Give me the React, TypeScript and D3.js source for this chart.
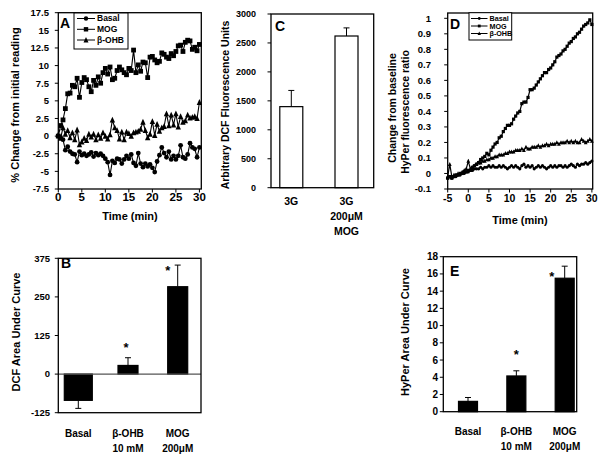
import React from "react";
import * as d3 from "d3";

// ---------- DATA ----------
const TIME_A = [0,0.5,1,1.5,2,2.5,3,3.5,4,4.5,5,5.5,6,6.5,7,7.5,8,8.5,9,9.5,10,10.5,11,11.5,12,12.5,13,13.5,14,14.5,15,15.5,16,16.5,17,17.5,18,18.5,19,19.5,20,20.5,21,21.5,22,22.5,23,23.5,24,24.5,25,25.5,26,26.5,27,27.5,28,28.5,29,29.5,30];
const BASAL_A = [0,-0.2,-0.5,-2.0,-1.5,-2.2,-2.5,-2.6,-3.7,-2.2,-2.7,-2.5,-2.8,-2.6,-2.3,-2.9,-2.4,-2.7,-2.5,-2.8,-3.2,-3.7,-5.5,-3.5,-3.8,-3.2,-3.3,-3.9,-3.3,-2.8,-3.2,-2.6,-3.8,-4.2,-2.4,-3.9,-4.4,-3.9,-4.3,-4.0,-4.5,-5.1,-3.6,-2.7,-1.6,-2.4,-3.0,-2.2,-3.3,-2.8,-3.3,-2.8,-1.3,-3.0,-3.2,-2.6,-1.0,-1.6,-1.8,-3.0,-1.6];
const MOG_A = [0,1.5,2.3,3.9,6.0,6.1,7.2,7.0,8.2,5.5,7.6,8.3,8.0,7.0,6.3,7.9,7.2,8.4,7.5,9.0,9.6,8.8,9.8,8.0,8.2,9.3,9.8,9.4,9.0,8.7,9.6,9.3,12.2,9.0,10.1,9.2,10.5,10.4,8.3,11.2,11.3,10.8,10.4,10.6,11.8,11.6,11.2,11.0,11.7,11.4,12.0,12.8,12.9,12.0,13.3,13.6,13.5,12.3,12.6,12.1,13.0];
const BOHB_A = [0.2,-0.3,1.2,0.3,0.8,-0.2,0.5,-0.5,0.9,-1.2,-0.8,-0.3,-0.6,0.3,-0.1,0.3,-0.5,0.2,-0.3,0.5,0.0,-0.4,0.2,2.3,1.2,0.8,-0.4,0.6,-0.5,0.6,0.4,0.0,0.5,0.6,0.7,1.0,2.0,0.8,-0.2,0.3,2.1,0.1,1.7,0.7,1.2,1.4,3.2,1.5,3.0,1.6,3.2,1.3,2.8,2.0,2.2,3.0,2.6,2.7,2.8,2.5,4.8];
const TICKS_A_Y = [-7.5,-5,-2.5,0,2.5,5,7.5,10,12.5,15,17.5];
const TICKS_A_X = [0,5,10,15,20,25,30];

const TIME_D = [-5,-4.5,-4,-3.5,-3,-2.5,-2,-1.5,-1,-0.5,0,0.5,1,1.5,2,2.5,3,3.5,4,4.5,5,5.5,6,6.5,7,7.5,8,8.5,9,9.5,10,10.5,11,11.5,12,12.5,13,13.5,14,14.5,15,15.5,16,16.5,17,17.5,18,18.5,19,19.5,20,20.5,21,21.5,22,22.5,23,23.5,24,24.5,25,25.5,26,26.5,27,27.5,28,28.5,29,29.5,30];
const BASAL_D = [-0.03,-0.02,-0.03,-0.02,-0.02,-0.01,-0.01,0.0,0.0,0.01,0.01,0.02,0.02,0.03,0.03,0.03,0.04,0.03,0.04,0.04,0.05,0.04,0.05,0.04,0.04,0.05,0.04,0.05,0.04,0.03,0.04,0.05,0.04,0.05,0.04,0.03,0.05,0.06,0.04,0.05,0.04,0.05,0.03,0.04,0.05,0.04,0.05,0.04,0.03,0.04,0.05,0.04,0.05,0.04,0.05,0.05,0.04,0.05,0.04,0.05,0.06,0.05,0.04,0.06,0.05,0.06,0.06,0.07,0.06,0.07,0.08];
const MOG_D = [-0.03,-0.02,-0.03,-0.02,-0.01,-0.01,0.0,0.0,0.01,0.01,0.02,0.02,0.04,0.05,0.06,0.07,0.09,0.1,0.11,0.13,0.12,0.15,0.17,0.19,0.2,0.23,0.24,0.27,0.29,0.31,0.31,0.32,0.35,0.37,0.39,0.4,0.45,0.46,0.46,0.49,0.54,0.54,0.55,0.57,0.59,0.61,0.63,0.65,0.65,0.67,0.68,0.7,0.72,0.75,0.76,0.77,0.79,0.8,0.82,0.84,0.85,0.87,0.88,0.9,0.91,0.93,0.95,0.96,0.97,0.99,0.96];
const BOHB_D = [-0.02,0.06,-0.02,-0.01,-0.01,0.0,0.0,0.01,0.02,0.03,0.08,0.03,0.04,0.05,0.06,0.07,0.07,0.08,0.08,0.09,0.09,0.1,0.1,0.11,0.11,0.12,0.12,0.12,0.13,0.13,0.14,0.14,0.14,0.15,0.15,0.15,0.16,0.15,0.17,0.16,0.16,0.17,0.17,0.17,0.18,0.17,0.18,0.18,0.19,0.18,0.19,0.19,0.19,0.2,0.19,0.2,0.2,0.2,0.21,0.2,0.21,0.2,0.21,0.2,0.2,0.22,0.21,0.2,0.21,0.22,0.21];
const TICKS_D_Y = [-0.1,0,0.1,0.2,0.3,0.4,0.5,0.6,0.7,0.8,0.9,1];
const TICKS_D_X = [-5,0,5,10,15,20,25,30];

const SERIES_NAMES = ["Basal", "MOG", "β-OHB"];

const CATS_C = ["3G", "3G 200μM MOG"];
const LABELS_C = [["3G"], ["3G", "200μM", "MOG"]];
const VALUES_C = [1400, 2620];
const ERR_C = [280, 140];
const TICKS_C_Y = [0,500,1000,1500,2000,2500,3000];

const CATS_B = ["Basal", "β-OHB 10 mM", "MOG 200μM"];
const LABELS_B = [["Basal"], ["β-OHB", "10 mM"], ["MOG", "200μM"]];
const VALUES_B = [-85, 28, 283];
const ERR_B = [26, 25, 70];
const SIG_B = [false, true, true];
const TICKS_B_Y = [-125, 0, 125, 250, 375];

const VALUES_E = [1.2, 4.15, 15.5];
const ERR_E = [0.45, 0.6, 1.4];
const SIG_E = [false, true, true];
const TICKS_E_Y = [0,2,4,6,8,10,12,14,16,18];

// ---------- STYLE ----------
const FONT = "'Liberation Sans', Arial, Helvetica, sans-serif";

function Marker({ type, x, y, s }: { type: string; x: number; y: number; s: number }) {
  if (type === "circle") return <circle cx={x} cy={y} r={s / 2} fill="#000" />;
  if (type === "square") return <rect x={x - s / 2} y={y - s / 2} width={s} height={s} fill="#000" />;
  const h = s * 1.1;
  return <polygon points={`${x},${y - h / 2 - 0.5} ${x - s / 2 - 0.3},${y + h / 2} ${x + s / 2 + 0.3},${y + h / 2}`} fill="#000" />;
}

const MARKERS = ["circle", "square", "triangle"];

function LinePanel(props: {
  xs: number[]; series: number[][]; xDom: [number, number]; xRange: [number, number];
  yDom: [number, number]; yRange: [number, number]; frameTop: number;
  yTicks: number[]; xTicks: number[]; yFmt: (v: number) => string;
  mSize: number; lw: number; yLabX: number; xLabY: number; yTickFs: number; xTickFs: number;
}) {
  const x = d3.scaleLinear().domain(props.xDom).range(props.xRange);
  const y = d3.scaleLinear().domain(props.yDom).range(props.yRange);
  const line = d3.line<number>().x((_, i) => x(props.xs[i])).y((d) => y(d));
  const [x0, x1] = props.xRange;
  const yb = props.yRange[0];
  return (
    <g>
      {props.series.map((s, k) => (
        <g key={k}>
          <path d={line(s) || ""} fill="none" stroke="#000" strokeWidth={props.lw} />
          {s.map((v, i) => (
            <Marker key={i} type={MARKERS[k]} x={x(props.xs[i])} y={y(v)} s={props.mSize} />
          ))}
        </g>
      ))}
      <rect x={x0} y={props.frameTop} width={x1 - x0} height={yb - props.frameTop} fill="none" stroke="#000" strokeWidth={1.3} />
      {props.yTicks.map((t) => (
        <g key={"y" + t}>
          <line x1={x0 - 3.5} x2={x0} y1={y(t)} y2={y(t)} stroke="#000" strokeWidth={1} />
          <text x={props.yLabX} y={y(t)} dy="0.35em" textAnchor="end" fontSize={props.yTickFs} fontWeight="bold" fontFamily={FONT}>{props.yFmt(t)}</text>
        </g>
      ))}
      {props.xTicks.map((t) => (
        <g key={"x" + t}>
          <line x1={x(t)} x2={x(t)} y1={yb} y2={yb + 3.5} stroke="#000" strokeWidth={1} />
          <text x={x(t)} y={props.xLabY} dy="0.35em" textAnchor="middle" fontSize={props.xTickFs} fontWeight="bold" fontFamily={FONT}>{t}</text>
        </g>
      ))}
    </g>
  );
}

function Legend({ x, y, w, h, rowY, lineX0, lineX1, fs, mSize }: any) {
  return (
    <g>
      <rect x={x} y={y} width={w} height={h} fill="#fff" stroke="#000" strokeWidth={1} />
      {SERIES_NAMES.map((n, k) => (
        <g key={n}>
          <line x1={lineX0} x2={lineX1} y1={rowY[k]} y2={rowY[k]} stroke="#000" strokeWidth={1} />
          <Marker type={MARKERS[k]} x={(lineX0 + lineX1) / 2} y={rowY[k]} s={mSize} />
          <text x={lineX1 + 2} y={rowY[k]} dy="0.35em" fontSize={fs} fontWeight="bold" fontFamily={FONT}>{n}</text>
        </g>
      ))}
    </g>
  );
}

function BarPanel(props: {
  values: number[]; errs: number[]; sig: boolean[] | null; labels: string[][]; cats: string[];
  centers: [number, number]; barW: number[]; fill: string;
  yDom: [number, number]; yRange: [number, number]; frame: [number, number];
  yTicks: number[]; yLabX: number; yTickFs: number; labY: number; labStep: number; labFs: number;
  zeroLine: boolean; starDx: number[]; starDy: number[];
}) {
  const x = d3.scalePoint<string>().domain(props.cats).range(props.centers);
  const y = d3.scaleLinear().domain(props.yDom).range(props.yRange);
  const [fx0, fx1] = props.frame;
  const yb = props.yRange[0];
  const yt = props.yRange[1];
  return (
    <g>
      {props.values.map((v, i) => {
        const cx = x(props.cats[i]) as number;
        const w = props.barW[i];
        const top = Math.min(y(v), y(0));
        const h = Math.abs(y(v) - y(0));
        const ev = v >= 0 ? v + props.errs[i] : v - props.errs[i];
        return (
          <g key={i}>
            <line x1={cx} x2={cx} y1={y(v)} y2={y(ev)} stroke="#000" strokeWidth={1} />
            <line x1={cx - 3} x2={cx + 3} y1={y(ev)} y2={y(ev)} stroke="#000" strokeWidth={1} />
            <rect x={cx - w / 2} y={top} width={w} height={h} fill={props.fill} stroke="#000" strokeWidth={1.2} />
            {props.sig && props.sig[i] && (
              <text x={cx + props.starDx[i]} y={y(ev) + props.starDy[i]} textAnchor="middle" fontSize={13} fontWeight="bold" fontFamily={FONT}>*</text>
            )}
            {props.labels[i].map((l, j) => (
              <text key={j} x={cx} y={props.labY + j * props.labStep} dy="0.35em" textAnchor="middle" fontSize={props.labFs} fontWeight="bold" fontFamily={FONT}>{l}</text>
            ))}
          </g>
        );
      })}
      {props.zeroLine && <line x1={fx0} x2={fx1} y1={y(0)} y2={y(0)} stroke="#555" strokeWidth={1.2} />}
      <rect x={fx0} y={yt} width={fx1 - fx0} height={yb - yt} fill="none" stroke="#000" strokeWidth={1.3} />
      {props.yTicks.map((t) => (
        <g key={t}>
          <line x1={fx0 - 3.5} x2={fx0} y1={y(t)} y2={y(t)} stroke="#000" strokeWidth={1} />
          <text x={props.yLabX} y={y(t)} dy="0.35em" textAnchor="end" fontSize={props.yTickFs} fontWeight="bold" fontFamily={FONT}>{t}</text>
        </g>
      ))}
    </g>
  );
}

function RotLabel({ x, y, text, fs }: { x: number; y: number; text: string; fs: number }) {
  return (
    <text transform={`translate(${x},${y}) rotate(-90)`} textAnchor="middle" dy="0.35em" fontSize={fs} fontWeight="bold" fontFamily={FONT}>{text}</text>
  );
}

function PanelLetter({ x, y, t }: { x: number; y: number; t: string }) {
  return <text x={x} y={y} fontSize={14} fontWeight="bold" fontFamily={FONT}>{t}</text>;
}

export default function App() {
  const fmtA = (v: number) => (Number.isInteger(v) ? String(v) : v.toFixed(1));
  const fmtD = (v: number) => (Math.abs(v) < 1e-9 ? "0" : String(+v.toFixed(1)));
  return (
    <svg width={603} height={459} style={{ position: "absolute", left: 0, top: 0, background: "#fff" }}>
      <rect x={0} y={0} width={603} height={459} fill="#fff" />
      {/* Panel A */}
      <LinePanel xs={TIME_A} series={[BASAL_A, MOG_A, BOHB_A]} xDom={[0, 30.4]} xRange={[58.3, 201.3]}
        yDom={[-7.5, 17.5]} yRange={[189, 12.7]} frameTop={12.7} yTicks={TICKS_A_Y} xTicks={TICKS_A_X}
        yFmt={fmtA} mSize={4.8} lw={1.1} yLabX={49} xLabY={197} yTickFs={9.5} xTickFs={11.5} />
      <Legend x={74} y={13} w={54} h={36} rowY={[18.5, 29.3, 40]} lineX0={77} lineX1={95} fs={8.5} mSize={4.4} />
      <PanelLetter x={60} y={27.5} t="A" />
      <RotLabel x={15} y={105} text="% Change from initial reading" fs={11} />
      <text x={130} y={216} dy="0.35em" textAnchor="middle" fontSize={11} fontWeight="bold" fontFamily={FONT}>Time (min)</text>

      {/* Panel C */}
      <BarPanel values={VALUES_C} errs={ERR_C} sig={null} labels={LABELS_C} cats={CATS_C}
        centers={[291.3, 346.5]} barW={[23, 23]} fill="#fff" yDom={[0, 3000]} yRange={[187.7, 14]}
        frame={[271, 373.7]} yTicks={TICKS_C_Y} yLabX={256} yTickFs={9} labY={201.5} labStep={15}
        labFs={10.5} zeroLine={false} starDx={[0, 0]} starDy={[0, 0]} />
      <PanelLetter x={275} y={31} t="C" />
      <RotLabel x={225} y={105} text="Arbitrary DCF Fluorescence Units" fs={10.5} />

      {/* Panel D */}
      <LinePanel xs={TIME_D} series={[BASAL_D, MOG_D, BOHB_D]} xDom={[-5, 30.2]} xRange={[447.7, 592.7]}
        yDom={[-0.1, 1]} yRange={[189, 18.3]} frameTop={13} yTicks={TICKS_D_Y} xTicks={TICKS_D_X}
        yFmt={fmtD} mSize={3.2} lw={1.2} yLabX={431} xLabY={198} yTickFs={9.5} xTickFs={10.5} />
      <Legend x={469} y={12.7} w={42.7} h={27.3} rowY={[18.5, 26, 33.5]} lineX0={471} lineX1={487.5} fs={7.2} mSize={2.8} />
      <PanelLetter x={450} y={28.5} t="D" />
      <RotLabel x={392} y={108} text="Change from baseline" fs={10.5} />
      <RotLabel x={405} y={112} text="HyPer fluorescence ratio" fs={10.5} />
      <text x={520} y={220} dy="0.35em" textAnchor="middle" fontSize={11} fontWeight="bold" fontFamily={FONT}>Time (min)</text>

      {/* Panel B */}
      <BarPanel values={VALUES_B} errs={ERR_B} sig={SIG_B} labels={LABELS_B} cats={CATS_B}
        centers={[78.3, 177.7]} barW={[28, 20, 20]} fill="#000" yDom={[-125, 375]} yRange={[412.7, 258.3]}
        frame={[58.3, 201]} yTicks={TICKS_B_Y} yLabX={50} yTickFs={9.5} labY={433} labStep={15}
        labFs={10} zeroLine={true} starDx={[0, -2, -10]} starDy={[0, -6, 10]} />
      <PanelLetter x={61} y={268} t="B" />
      <RotLabel x={16} y={332} text="DCF Area Under Curve" fs={11} />

      {/* Panel E */}
      <BarPanel values={VALUES_E} errs={ERR_E} sig={SIG_E} labels={LABELS_B} cats={CATS_B}
        centers={[468, 564.7]} barW={[19, 19, 19]} fill="#000" yDom={[0, 18]} yRange={[411.7, 256.7]}
        frame={[443.3, 576.7]} yTicks={TICKS_E_Y} yLabX={438} yTickFs={10} labY={431.5} labStep={15}
        labFs={10} zeroLine={false} starDx={[0, 0, -13]} starDy={[0, -12, 15]} />
      <PanelLetter x={450} y={275.5} t="E" />
      <RotLabel x={405} y={332} text="HyPer Area Under Curve" fs={11} />
    </svg>
  );
}
